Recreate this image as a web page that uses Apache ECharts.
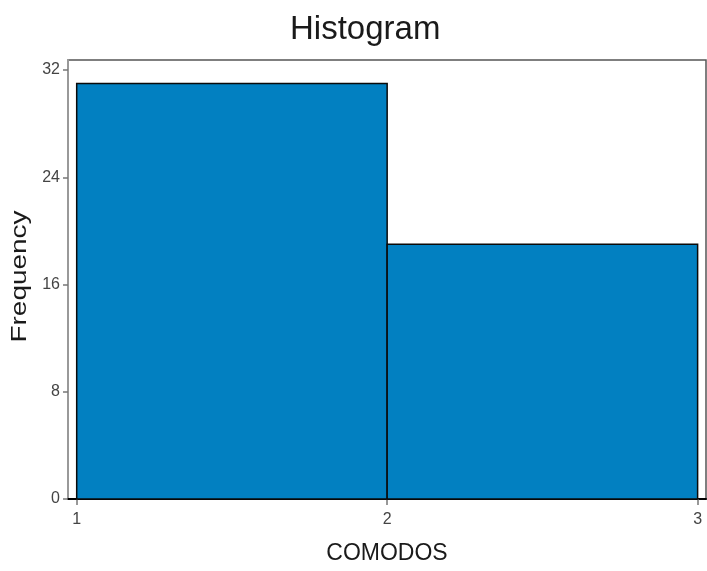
<!DOCTYPE html>
<html>
<head>
<meta charset="utf-8">
<script src="https://cdn.jsdelivr.net/npm/echarts@6/dist/echarts.min.js"></script>
<style>
  html, body { margin: 0; padding: 0; background: #fff; }
  #chart { width: 707px; height: 571px; }
</style>
</head>
<body>
<div id="chart"></div>
<script>
// Histogram bins of COMODOS: each bin spans [start, end) with its count
const binStarts = [1, 2];
const binEnds = [2, 3];
const frequencies = [31, 19];
const xTicks = [1, 2, 3];
const yTicks = [0, 8, 16, 24, 32];

const chart = echarts.init(document.getElementById('chart'), null, { renderer: 'canvas' });

const bins = binStarts.map((s, i) => [s, binEnds[i], frequencies[i]]);

const tickFont = '"Liberation Sans Narrow", "Liberation Sans", Arial, sans-serif';

chart.setOption({
  animation: false,
  backgroundColor: '#ffffff',
  title: {
    text: 'Histogram',
    left: 285,
    top: 8,
    textStyle: {
      fontFamily: '"Liberation Sans", Arial, sans-serif',
      fontSize: 33,
      fontWeight: 'normal',
      color: '#1a1a1a'
    }
  },
  // y-axis title, stretched along its reading direction
  graphic: [{
    type: 'text',
    x: 20,
    y: 276.5,
    rotation: Math.PI / 2,
    scaleX: 1.27,
    style: {
      text: 'Frequency',
      font: '22px "Liberation Sans", Arial, sans-serif',
      fill: '#1a1a1a',
      align: 'center',
      verticalAlign: 'middle'
    }
  }],
  grid: {
    left: 68, right: 1, top: 60, bottom: 72,
    show: true,
    borderColor: '#555',
    borderWidth: 1.5,
    containLabel: false
  },
  xAxis: {
    type: 'value',
    min: 0.972,
    max: 3.027,
    name: 'COMODOS',
    nameLocation: 'middle',
    nameGap: 43,
    nameTextStyle: {
      fontFamily: '"Liberation Sans", Arial, sans-serif',
      fontSize: 23,
      color: '#1a1a1a'
    },
    splitLine: { show: false },
    axisLine: { show: true, onZero: false, lineStyle: { color: '#000', width: 2 } },
    axisTick: { show: true, customValues: xTicks, length: 6, lineStyle: { color: '#777', width: 1.5 } },
    axisLabel: {
      customValues: xTicks,
      margin: 13,
      fontFamily: tickFont,
      fontSize: 16,
      color: '#444'
    }
  },
  yAxis: {
    type: 'value',
    min: 0,
    max: 32.75,
    splitLine: { show: false },
    axisLine: { show: true, lineStyle: { color: '#999', width: 2 } },
    axisTick: { show: true, customValues: yTicks, length: 5, lineStyle: { color: '#777', width: 1.5 } },
    axisLabel: {
      customValues: yTicks,
      margin: 8,
      fontFamily: tickFont,
      fontSize: 16,
      color: '#444'
    }
  },
  series: [{
    type: 'custom',
    data: bins,
    encode: { x: [0, 1], y: 2 },
    renderItem: function (params, api) {
      const topLeft = api.coord([api.value(0), api.value(2)]);
      const bottomRight = api.coord([api.value(1), 0]);
      return {
        type: 'rect',
        shape: {
          x: topLeft[0],
          y: topLeft[1],
          width: bottomRight[0] - topLeft[0],
          height: bottomRight[1] - topLeft[1]
        },
        style: {
          fill: '#0280c1',
          stroke: '#0a0a0a',
          lineWidth: 1.5
        }
      };
    }
  }]
});
</script>
</body>
</html>
